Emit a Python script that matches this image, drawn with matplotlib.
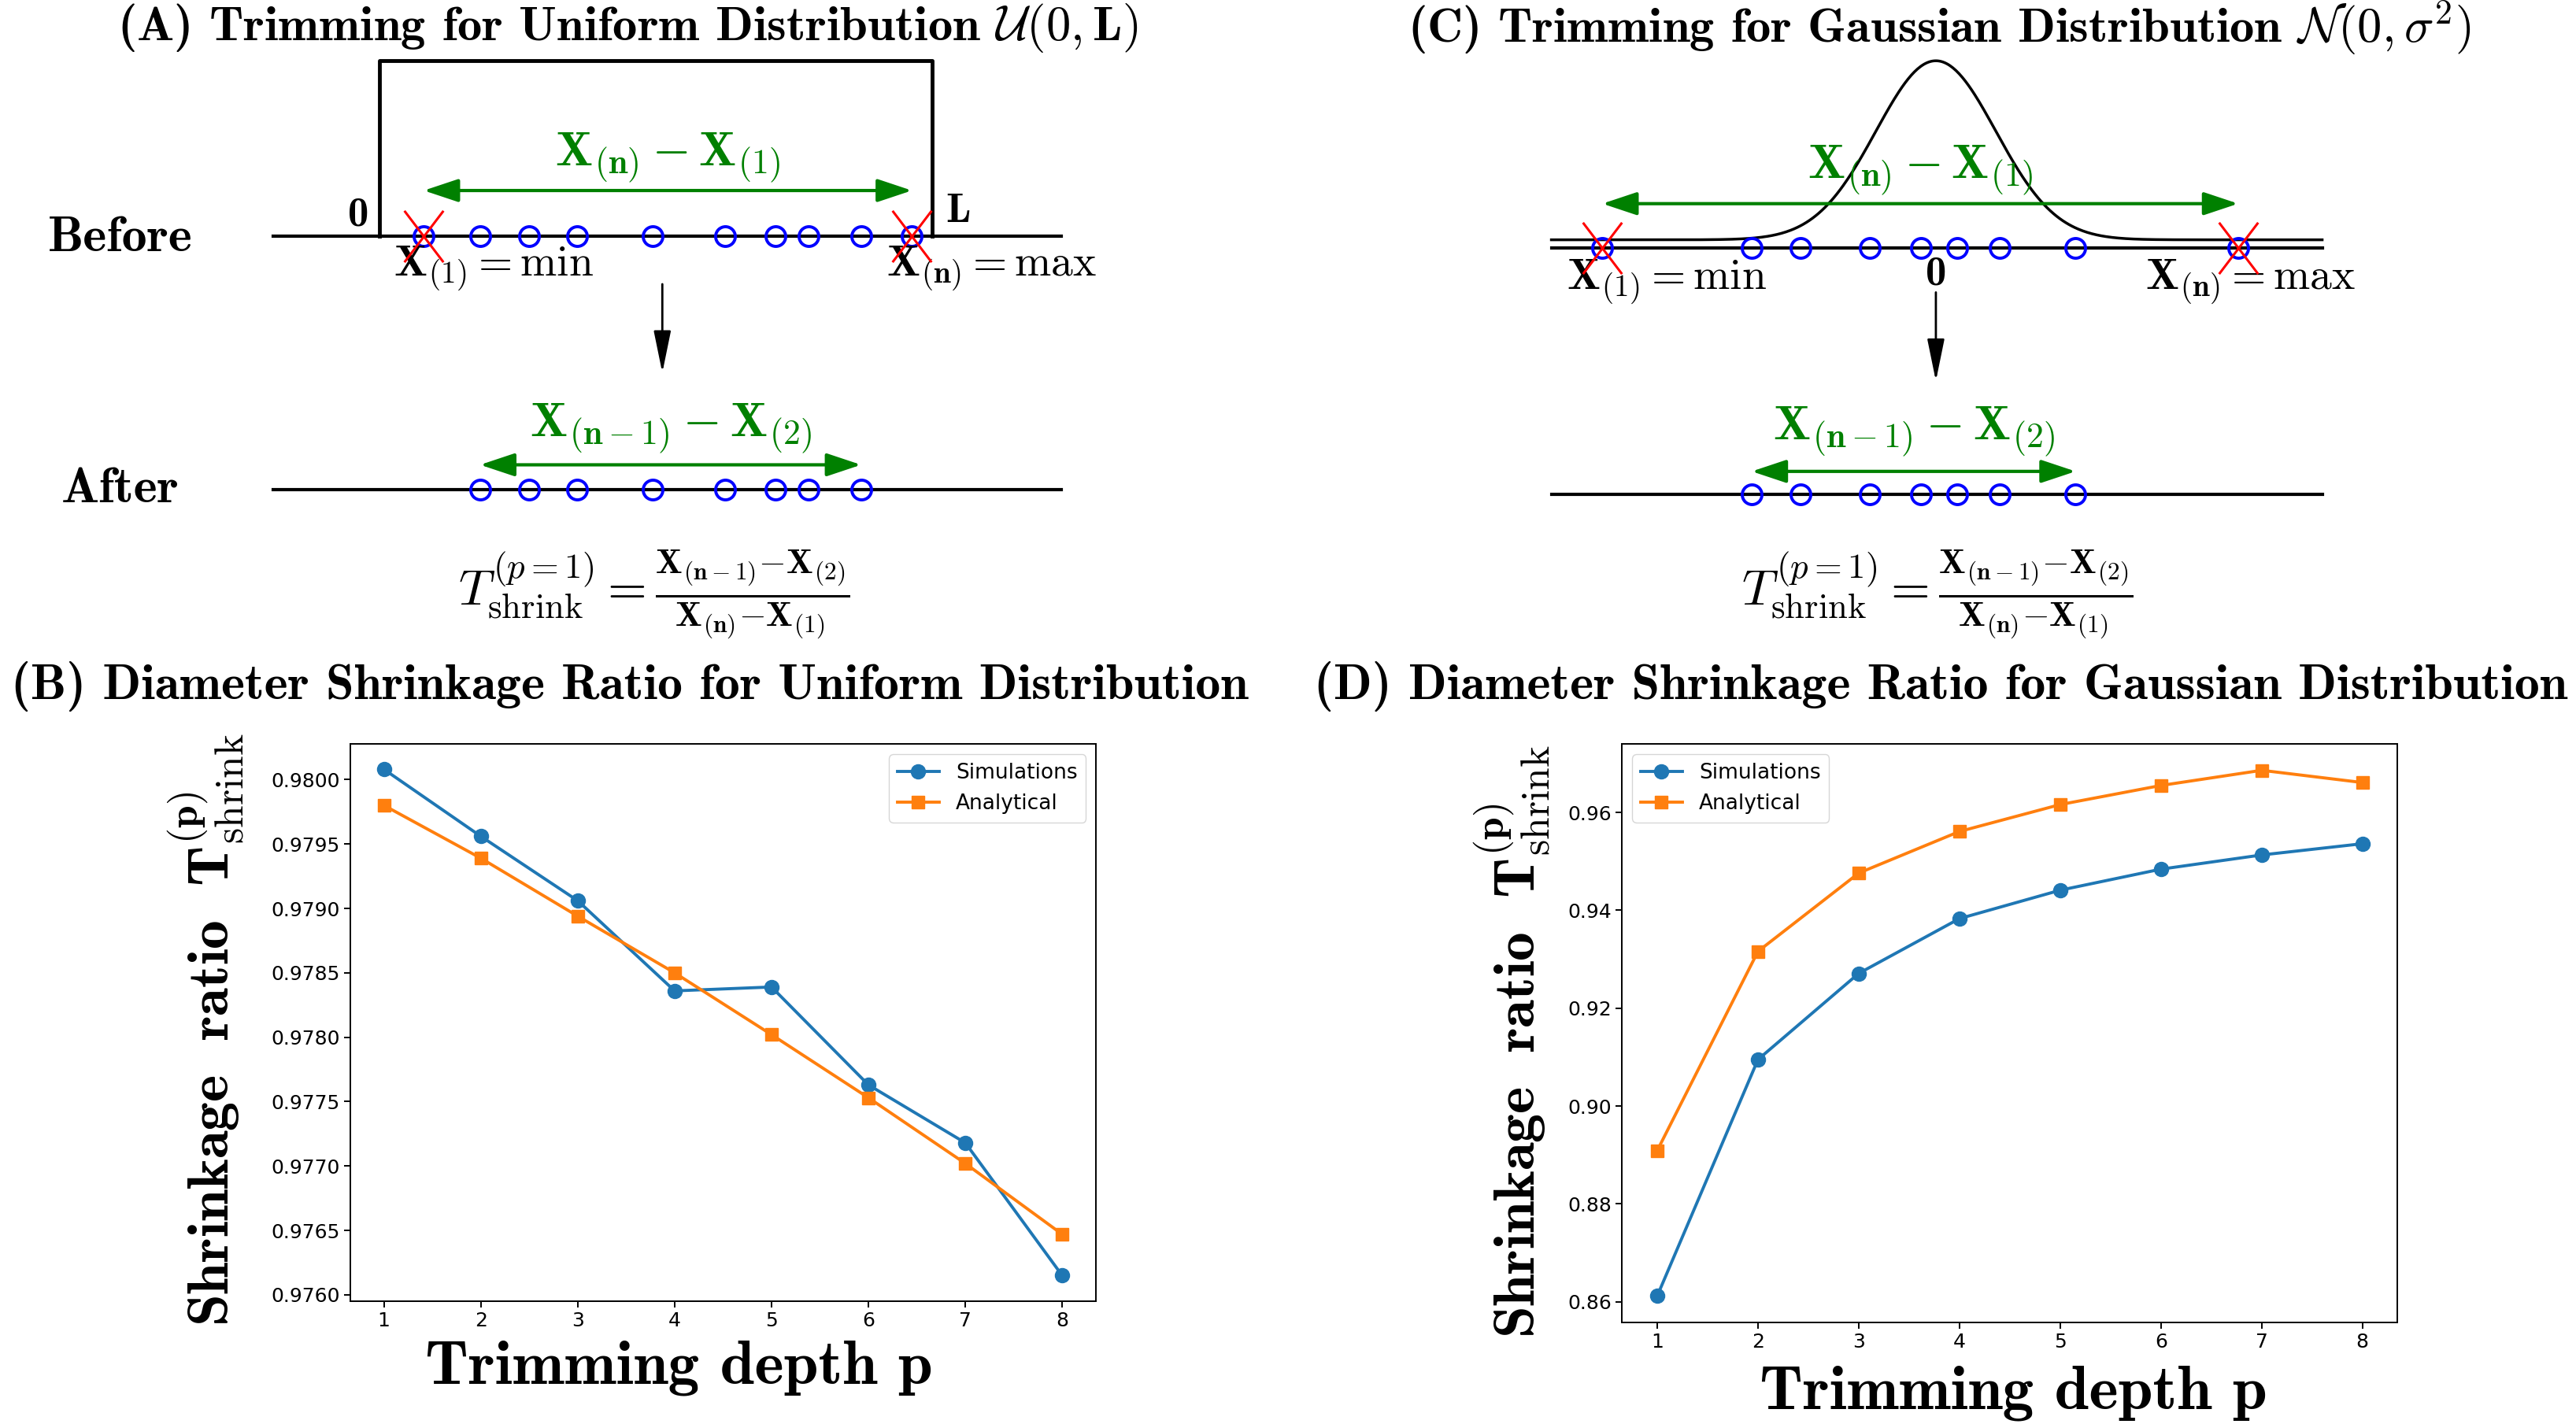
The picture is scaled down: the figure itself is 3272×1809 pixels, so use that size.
import numpy as np
import matplotlib.pyplot as plt
from matplotlib.path import Path
from matplotlib.ticker import MultipleLocator, FormatStrFormatter

plt.rcParams['mathtext.fontset'] = 'cm'

# schematic sample positions (uniform in units of L, gaussian in units of sigma)
uniform_samples = [0.080, 0.182, 0.271, 0.357, 0.494, 0.625, 0.717, 0.777, 0.872, 0.964]
gauss_samples = [-5.56, -3.07, -2.25, -1.10, -0.25, 0.36, 1.07, 2.33, 5.04]

# shrinkage ratio vs trimming depth
depth = [1, 2, 3, 4, 5, 6, 7, 8]
unif_sim = [0.98008, 0.97956, 0.97906, 0.97836, 0.97839, 0.97763, 0.97718, 0.97615]
unif_ana = [0.97980, 0.97939, 0.97894, 0.97850, 0.97802, 0.97753, 0.97702, 0.97647]
gauss_sim = [0.8612, 0.9095, 0.9271, 0.9383, 0.9441, 0.9484, 0.9513, 0.9536]
gauss_ana = [0.8909, 0.9316, 0.9476, 0.9561, 0.9616, 0.9655, 0.9686, 0.9661]

W, H = 1568, 867  # layout grid


def fx(x):
    return x / W


def fy(y):
    return 1 - y / H


fig = plt.figure(figsize=(32.73, 18.09), dpi=100)

BOLD = 'cmb10'
cross = Path([(-0.76, -1), (0.76, 1), (0.76, -1), (-0.76, 1)],
             [Path.MOVETO, Path.LINETO, Path.MOVETO, Path.LINETO])
circ_kw = dict(ls='none', marker='o', mfc='none', mec='blue', ms=18, mew=2.8, zorder=3)
cross_kw = dict(ls='none', marker=cross, mfc='none', mec='red', ms=47, mew=2.2, zorder=4)
green_arrow = dict(arrowstyle='<|-|>,head_length=0.9,head_width=0.3', color='green',
                   lw=3, mutation_scale=30, shrinkA=0, shrinkB=0)
down_arrow = dict(arrowstyle='-|>,head_length=2.2,head_width=0.45', color='black',
                  lw=2, mutation_scale=15, shrinkA=0, shrinkB=0)
formula = (r'$T^{(p=1)}_{\mathrm{shrink}} = '
           r'\frac{\mathbf{X_{(n-1)}{-}X_{(2)}}}{\mathbf{X_{(n)}{-}X_{(1)}}}$')


def schematic(ax, pts, lo, hi, before_y, after_y, arrow_y, label_y, arrow2_y, label2_y):
    pts = np.asarray(pts)
    ax.plot([lo, hi], [before_y, before_y], color='k', lw=3, zorder=1)
    ax.plot([lo, hi], [after_y, after_y], color='k', lw=3, zorder=1)
    ax.plot(pts, [before_y] * len(pts), **circ_kw)
    ax.plot(pts[[0, -1]], [before_y] * 2, **cross_kw)
    ax.plot(pts[1:-1], [after_y] * (len(pts) - 2), **circ_kw)
    ax.annotate('', xy=(pts[-1], arrow_y), xytext=(pts[0], arrow_y), arrowprops=green_arrow)
    ax.text((pts[0] + pts[-1]) / 2, label_y, r'$\mathbf{X_{(n)}-X_{(1)}}$',
            color='green', fontsize=45, ha='center', va='center')
    ax.annotate('', xy=(pts[-2], arrow2_y), xytext=(pts[1], arrow2_y), arrowprops=green_arrow)
    ax.text((pts[1] + pts[-2]) / 2, label2_y, r'$\mathbf{X_{(n-1)}-X_{(2)}}$',
            color='green', fontsize=45, ha='center', va='center')


# ---------- (A) uniform schematic ----------
A0, AS = 231, 336
ax_a = fig.add_axes([0, fy(400), fx(784), 400 / H])
ax_a.set_xlim((0 - A0) / AS, (784 - A0) / AS)
ax_a.set_ylim(400, 0)
ax_a.axis('off')
ax_a.plot([0, 0, 1, 1], [144, 37, 37, 144], color='k', lw=3.5, zorder=1)
schematic(ax_a, uniform_samples, -0.193, 1.235, 144, 298, 116, 96, 283, 261)
u = uniform_samples
ax_a.text(-0.02, 131, '0', fontfamily=BOLD, fontsize=38, ha='right', va='center')
ax_a.text(1.025, 129, 'L', fontfamily=BOLD, fontsize=38, ha='left', va='center')
ax_a.text(u[0] - 0.055, 164, r'$\mathbf{X_{(1)}} = \mathrm{min}$', fontsize=40, ha='left', va='center')
ax_a.text(u[-1] - 0.046, 164, r'$\mathbf{X_{(n)}} = \mathrm{max}$', fontsize=40, ha='left', va='center')
ax_a.annotate('', xy=(0.512, 227), xytext=(0.512, 173), arrowprops=down_arrow)
ax_a.text(0.497, 362, formula, fontsize=46, ha='center', va='center')

# ---------- (C) gaussian schematic ----------
C0, CS = 1178, 36.5
ax_c = fig.add_axes([fx(784), fy(400), fx(784), 400 / H])
ax_c.set_xlim((784 - C0) / CS, (1568 - C0) / CS)
ax_c.set_ylim(400, 0)
ax_c.axis('off')
xs = np.linspace(-6.41, 6.44, 500)
ax_c.plot(xs, 146 - 109 * np.exp(-xs ** 2 / 2), color='k', lw=2.5, zorder=1)
schematic(ax_c, gauss_samples, -6.41, 6.44, 151, 301, 124, 104, 287, 263)
g = gauss_samples
ax_c.text(0, 167, '0', fontfamily=BOLD, fontsize=38, ha='center', va='center')
ax_c.text(g[0] - 0.6, 172, r'$\mathbf{X_{(1)}} = \mathrm{min}$', fontsize=40, ha='left', va='center')
ax_c.text(g[-1] - 1.55, 172, r'$\mathbf{X_{(n)}} = \mathrm{max}$', fontsize=40, ha='left', va='center')
ax_c.annotate('', xy=(0, 232), xytext=(0, 178), arrowprops=down_arrow)
ax_c.text(0.03, 362, formula, fontsize=46, ha='center', va='center')

# Before / After
fig.text(fx(73), fy(145), 'Before', fontfamily=BOLD, fontsize=46, ha='center', va='center')
fig.text(fx(73), fy(298), 'After', fontfamily=BOLD, fontsize=46, ha='center', va='center')

# titles
fig.text(fx(382), fy(17), r'(A) Trimming for Uniform Distribution $\mathcal{U}(\mathbf{0},\mathbf{L})$',
         fontfamily=BOLD, fontsize=45, ha='center', va='center')
fig.text(fx(1180), fy(17), r'(C) Trimming for Gaussian Distribution $\mathcal{N}(\mathbf{0},\sigma^{\mathbf{2}})$',
         fontfamily=BOLD, fontsize=45, ha='center', va='center')
fig.text(fx(383), fy(418), '(B) Diameter Shrinkage Ratio for Uniform Distribution',
         fontfamily=BOLD, fontsize=46, ha='center', va='center')
fig.text(fx(1181), fy(418), '(D) Diameter Shrinkage Ratio for Gaussian Distribution',
         fontfamily=BOLD, fontsize=46, ha='center', va='center')

# ---------- (B), (D) line plots ----------
ax_b = fig.add_axes([fx(213), fy(792), fx(667 - 213), (792 - 453) / H])
ax_d = fig.add_axes([fx(987), fy(805), fx(1459 - 987), (805 - 453) / H])

for ax, sim, ana, loc, step, fmt in [(ax_b, unif_sim, unif_ana, 'upper right', 0.0005, '%.4f'),
                                     (ax_d, gauss_sim, gauss_ana, 'upper left', 0.02, '%.2f')]:
    ax.plot(depth, sim, marker='o', color='#1f77b4', lw=2.8, ms=13, label='Simulations')
    ax.plot(depth, ana, marker='s', color='#ff7f0e', lw=2.8, ms=12, label='Analytical')
    ax.yaxis.set_major_locator(MultipleLocator(step))
    ax.yaxis.set_major_formatter(FormatStrFormatter(fmt))
    ax.tick_params(labelsize=18, length=6, width=1.4)
    for s in ax.spines.values():
        s.set_linewidth(1.4)
    ax.legend(loc=loc, fontsize=19)

ylab = r'$\mathbf{Shrinkage\ \ ratio\ \ T}^{\mathbf{(p)}}_{\mathrm{shrink}}$'
fig.text(fx(125), fy(627), ylab, fontsize=53, rotation=90, ha='center', va='center')
fig.text(fx(920), fy(634), ylab, fontsize=53, rotation=90, ha='center', va='center')
fig.text(fx(413), fy(833), 'Trimming depth p', fontfamily=BOLD, fontsize=57, ha='center', va='center')
fig.text(fx(1225), fy(848), 'Trimming depth p', fontfamily=BOLD, fontsize=57, ha='center', va='center')

fig.savefig('out.png', dpi=100)
